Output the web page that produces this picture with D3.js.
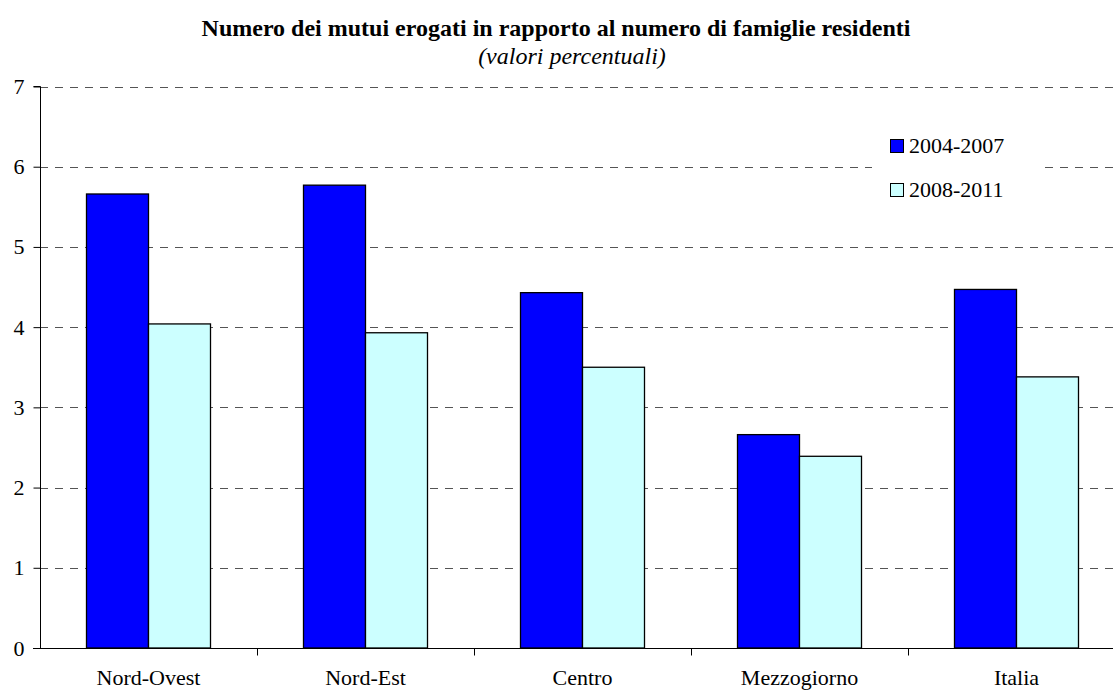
<!DOCTYPE html>
<html>
<head>
<meta charset="utf-8">
<script src="https://cdn.jsdelivr.net/npm/d3@7"></script>
<style>
  html, body { margin: 0; padding: 0; background: #fff; }
  svg { display: block; }
  text { font-family: "Liberation Serif", "Times New Roman", serif; fill: #000; }
</style>
</head>
<body>
<svg id="chart" width="1113" height="691"></svg>
<script>
const categories = ["Nord-Ovest", "Nord-Est", "Centro", "Mezzogiorno", "Italia"];
const seriesNames = ["2004-2007", "2008-2011"];
const values2004_2007 = [5.66, 5.77, 4.43, 2.66, 4.47];
const values2008_2011 = [4.04, 3.93, 3.50, 2.39, 3.38];
const seriesColors = ["#0000FF", "#CCFFFF"];
const yTicks = [0, 1, 2, 3, 4, 5, 6, 7];
const titleText = "Numero dei mutui erogati in rapporto al numero di famiglie residenti";
const subtitleText = "(valori percentuali)";

(function () {
const seriesValues = [values2004_2007, values2008_2011];
const svg = d3.select("#chart");

const pLeft = 40, pTop = 86.5, pBottom = 648, catW = 217;
const pRight = pLeft + catW * categories.length;

const y = d3.scaleLinear().domain([0, 7]).range([pBottom, pTop]);
const x0 = d3.scaleBand().domain(categories).range([pLeft, pRight]).padding(0);
const x1 = d3.scaleBand().domain(seriesNames).range([46.5, 170.5]).padding(0);

// gridlines
svg.append("g").selectAll("line").data(yTicks.filter(d => d > 0)).join("line")
  .attr("x1", pLeft).attr("x2", 1113)
  .attr("y1", d => Math.round(y(d)) + 0.5).attr("y2", d => Math.round(y(d)) + 0.5)
  .attr("stroke", "#555").attr("stroke-width", 1)
  .attr("stroke-dasharray", "8,7");

// bars
const groups = svg.append("g").selectAll("g").data(categories).join("g")
  .attr("transform", d => `translate(${x0(d)},0)`);
groups.selectAll("rect").data((c, i) => seriesNames.map((s, j) => ({ s, v: seriesValues[j][i], j })))
  .join("rect")
  .attr("x", d => x1(d.s))
  .attr("y", d => y(d.v))
  .attr("width", x1.bandwidth())
  .attr("height", d => pBottom - y(d.v))
  .attr("fill", d => seriesColors[d.j])
  .attr("stroke", "#000").attr("stroke-width", 1.3);

// y axis
const yAxis = d3.axisLeft(y).tickValues(yTicks).tickSize(7).tickPadding(9).tickFormat(d3.format("d"));
const gy = svg.append("g").attr("transform", `translate(${pLeft + 0.5},0)`).call(yAxis);
gy.select(".domain").attr("stroke", "#000").attr("d", `M-7,${y(7)}H0V${pBottom}`);
gy.selectAll(".tick line").attr("stroke", "#000");
gy.selectAll(".tick text").style("font-family", "Liberation Serif, serif").style("font-size", "22px");

// x axis
const gx = svg.append("g").attr("transform", `translate(0,${pBottom + 0.5})`);
gx.append("line").attr("x1", pLeft - 7).attr("x2", 1113).attr("y1", 0).attr("y2", 0).attr("stroke", "#000");
gx.selectAll(".xt").data(categories.slice(1)).join("line").attr("class", "xt")
  .attr("x1", d => x0(d) + 0.5).attr("x2", d => x0(d) + 0.5)
  .attr("y1", 0).attr("y2", 7).attr("stroke", "#000");
gx.selectAll(".xl").data(categories).join("text").attr("class", "xl")
  .attr("x", d => x0(d) + x0.bandwidth() / 2)
  .attr("y", 36)
  .attr("text-anchor", "middle")
  .style("font-size", "22px")
  .text(d => d);

// legend
const lg = svg.append("g");
lg.append("rect").attr("x", 872).attr("y", 126).attr("width", 168).attr("height", 80).attr("fill", "#fff");
seriesNames.forEach((s, i) => {
  const yy = 139 + i * 44;
  lg.append("rect").attr("x", 890.5).attr("y", yy + 0.5).attr("width", 13).attr("height", 13)
    .attr("fill", seriesColors[i]).attr("stroke", "#000").attr("stroke-width", 1);
  lg.append("text").attr("x", 909).attr("y", yy + 14).style("font-size", "22px").text(s);
});

// titles
svg.append("text").attr("x", 556).attr("y", 36).attr("text-anchor", "middle")
  .style("font-size", "24px").style("font-weight", "bold").text(titleText);
svg.append("text").attr("x", 572).attr("y", 64).attr("text-anchor", "middle")
  .style("font-size", "24px").style("font-style", "italic").text(subtitleText);
})();
</script>
</body>
</html>
